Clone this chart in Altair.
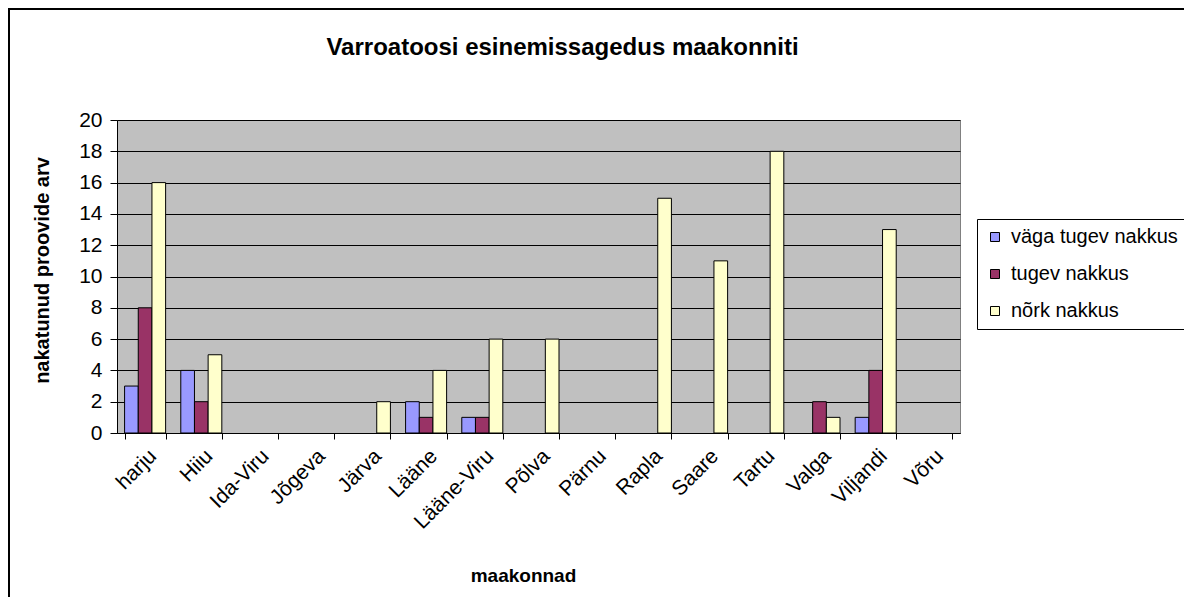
import altair as alt
import pandas as pd

categories = ["harju", "Hiiu", "Ida-Viru", "Jõgeva", "Järva", "Lääne", "Lääne-Viru",
              "Põlva", "Pärnu", "Rapla", "Saare", "Tartu", "Valga", "Viljandi", "Võru"]
series = ["väga tugev nakkus", "tugev nakkus", "nõrk nakkus"]
vaga_tugev = [3, 4, 0, 0, 0, 2, 1, 0, 0, 0, 0, 0, 0, 1, 0]
tugev = [8, 2, 0, 0, 0, 1, 1, 0, 0, 0, 0, 0, 2, 4, 0]
nork = [16, 5, 0, 0, 2, 4, 6, 6, 0, 15, 11, 18, 1, 13, 0]
colors = ["#9999FF", "#993366", "#FFFFCC"]
y_ticks = [0, 2, 4, 6, 8, 10, 12, 14, 16, 18, 20]

rows = []
for s, vals in zip(series, [vaga_tugev, tugev, nork]):
    for c, v in zip(categories, vals):
        if v > 0:
            rows.append({"maakond": c, "seeria": s, "arv": v})
df = pd.DataFrame(rows)

FONT = "Liberation Sans"

bars = alt.Chart(df).mark_bar(stroke="black", strokeWidth=1).encode(
    x=alt.X(
        "maakond:N",
        sort=categories,
        scale=alt.Scale(domain=categories, paddingInner=0.27, paddingOuter=0.135),
        axis=alt.Axis(
            title="maakonnad", labelAngle=-45, labelAlign="right", labelBaseline="top",
            tickBand="extent", tickSize=6, labelPadding=6, domainColor="black",
            tickColor="black", labelFontSize=21, titleFontSize=19, titleFontWeight="bold",
            titleX=406, titleY=142, titleBaseline="middle", titleAlign="center", grid=False,
        ),
    ),
    xOffset=alt.XOffset("seeria:N", sort=series,
                        scale=alt.Scale(domain=series, paddingInner=0, paddingOuter=0)),
    y=alt.Y(
        "arv:Q",
        scale=alt.Scale(domain=[0, 20], nice=False),
        axis=alt.Axis(
            values=y_ticks, title="nakatunud proovide arv", grid=True, gridColor="black",
            gridWidth=1, gridOpacity=1, tickSize=7, tickColor="black", domainColor="black",
            labelPadding=8, labelFontSize=21, labelFlush=False, titleFontSize=20,
            titleFontWeight="bold", titleX=-75, titleY=150, titleAngle=-90,
            titleAlign="center", titleBaseline="middle",
        ),
    ),
    color=alt.Color(
        "seeria:N", sort=series,
        scale=alt.Scale(domain=series, range=colors),
        legend=alt.Legend(
            title=None, orient="none", legendX=860, legendY=99, direction="vertical",
            symbolType="square", symbolSize=81, symbolStrokeColor="black",
            symbolStrokeWidth=1, labelFont=FONT, labelFontSize=20, labelColor="black",
            labelOffset=6, rowPadding=17, padding=8, strokeColor="black",
            fillColor="white", labelLimit=300,
        ),
    ),
)

frame = alt.Chart(alt.Data(values=[{"a": 1}])).mark_rect(
    fillOpacity=0, stroke="black", strokeWidth=2
).encode(
    x=alt.value(-108), x2=alt.value(1200), y=alt.value(-111), y2=alt.value(600)
)

chart = alt.layer(bars, frame).properties(
    width=843,
    height=313,
    autosize=alt.AutoSizeParams(type="none"),
    padding={"left": 109, "top": 112, "right": 224, "bottom": 164},
    title=alt.TitleParams(
        "Varroatoosi esinemissagedus maakonniti", font=FONT, fontSize=24,
        fontWeight="bold", anchor="middle", frame="group", dx=24, dy=71,
        baseline="alphabetic", offset=0, color="black",
    ),
    background="white",
).configure_view(
    fill="#C0C0C0", stroke="#808080", strokeWidth=1
).configure_axis(
    labelFont=FONT, titleFont=FONT, labelColor="black", titleColor="black"
)

chart.save("out.html", embed_options={"renderer": "svg", "actions": False})
